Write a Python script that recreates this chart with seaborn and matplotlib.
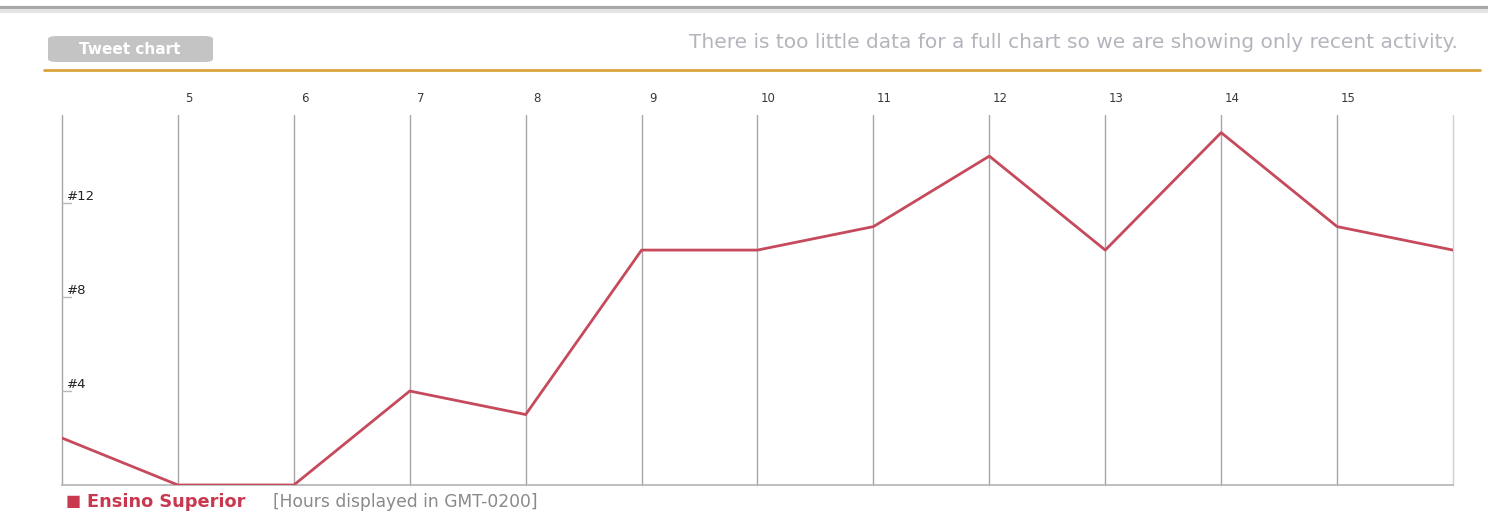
import pandas as pd
import matplotlib.pyplot as plt
import matplotlib.transforms as mtransforms
from matplotlib.patches import FancyBboxPatch
import seaborn as sns

# data (hour of day -> rank value)
hours = [4, 5, 6, 7, 8, 9, 10, 11, 12, 13, 14, 15, 16]
values = [2, 0, 0, 4, 3, 10, 10, 11, 14, 10, 15, 11, 10]
hour_labels = ["5", "6", "7", "8", "9", "10", "11", "12", "13", "14", "15"]
rank_ticks = [4, 8, 12]
rank_labels = ["#4", "#8", "#12"]
series_name = "Ensino Superior"

df = pd.DataFrame({"hour": hours, "value": values})

sns.set_style("white")
plt.rcParams["font.family"] = ["DejaVu Sans"]

fig = plt.figure(figsize=(14.88, 5.14), dpi=100)
ax = fig.add_axes([62 / 1488, 29 / 514, 1391 / 1488, 370 / 514])

# vertical hour lines
for h in hours:
    c = "#a6a6a6" if h < hours[-1] else "#d0d0d0"
    ax.axvline(h, color=c, lw=1.0, zorder=1, clip_on=False)

sns.lineplot(data=df, x="hour", y="value", color="#c64a5c", lw=2, ax=ax, zorder=3)

ax.set_xlim(hours[0], hours[-1])
ax.set_ylim(0, 15.75)
for s in ["top", "right", "left"]:
    ax.spines[s].set_visible(False)
ax.spines["bottom"].set_color("#b4b4b4")
ax.spines["bottom"].set_linewidth(1.2)
ax.set_xlabel("")
ax.set_ylabel("")

# hour labels on top, shifted to the right of each line
ax.xaxis.tick_top()
ax.set_xticks(hours[1:-1])
ax.set_xticklabels(hour_labels, fontsize=8.5, color="#3a3a3a")
ax.tick_params(axis="x", length=0, pad=7)
shift = mtransforms.ScaledTranslation(11 / 100, 0, fig.dpi_scale_trans)
for lab in ax.get_xticklabels():
    lab.set_transform(lab.get_transform() + shift)
ax.set_yticks([])

# rank labels just above their level
for v, lab in zip(rank_ticks, rank_labels):
    ax.text(hours[0], v, lab, fontsize=9.5, color="#222222", ha="left", va="bottom",
            transform=ax.transData + mtransforms.ScaledTranslation(5 / 100, 0, fig.dpi_scale_trans))
    ax.plot([hours[0], hours[0] + 0.08], [v, v], color="#b8b8b8", lw=1)

# header
fig.add_artist(plt.Line2D([0, 1], [1 - 8 / 514, 1 - 8 / 514], color="#a8a8a8", lw=3))
fig.add_artist(plt.Line2D([0, 1], [1 - 11 / 514, 1 - 11 / 514], color="#e4e4e4", lw=3))
fig.add_artist(plt.Line2D([44 / 1488, 1480 / 1488], [1 - 70 / 514, 1 - 70 / 514], color="#d9a43c", lw=2))
btn = FancyBboxPatch((48 / 1488, 1 - 62 / 514), 165 / 1488, 26 / 514,
                     boxstyle="round,pad=0,rounding_size=0.006", transform=fig.transFigure,
                     facecolor="#c4c4c4", edgecolor="none")
fig.add_artist(btn)
fig.text(130 / 1488, 1 - 49 / 514, "Tweet chart", fontsize=11, fontweight="bold",
         color="white", ha="center", va="center")
fig.text(1458 / 1488, 1 - 42 / 514,
         "There is too little data for a full chart so we are showing only recent activity.",
         fontsize=14.5, color="#b4b4bc", ha="right", va="center")

# footer legend
fig.text(66 / 1488, 1 - 502 / 514, "\u25a0", fontsize=11.5, color="#c8384e", ha="left", va="center")
fig.text(87 / 1488, 1 - 502 / 514, series_name, fontsize=12.8, fontweight="bold",
         color="#c8384e", ha="left", va="center")
fig.text(273 / 1488, 1 - 502 / 514, "[Hours displayed in GMT-0200]", fontsize=12.3,
         color="#8a8a8a", ha="left", va="center")

plt.savefig("out.png", dpi=100)
